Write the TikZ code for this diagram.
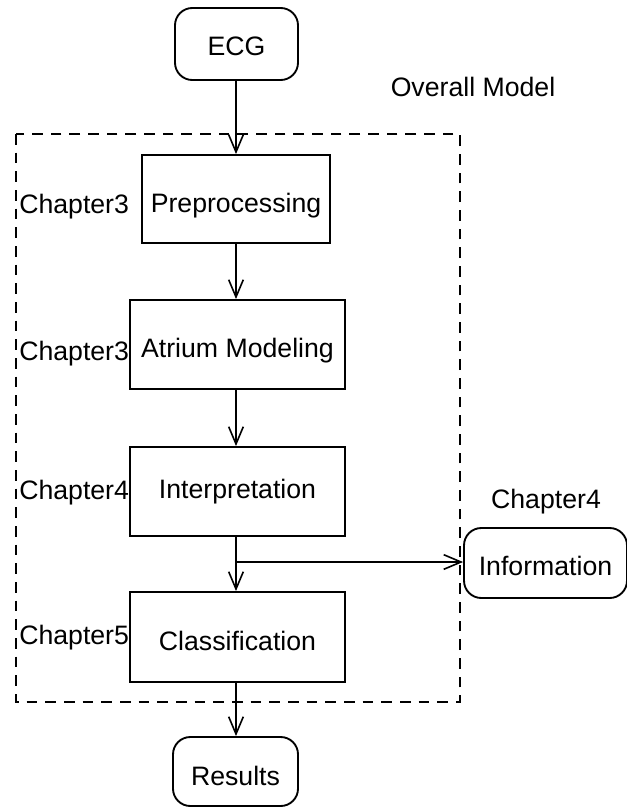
\documentclass[tikz,border=0pt]{standalone}
\usepackage{fontspec}
\setmainfont{Liberation Sans}
\usetikzlibrary{arrows.meta}
\begin{document}
\begin{tikzpicture}[x=0.75pt,y=-0.75pt,
  every node/.style={font=\fontsize{20}{24}\selectfont, inner sep=0pt, text height=14.3pt, text depth=0pt},
  rbox/.style={draw, line width=1.4pt, rounded corners=13pt},
  sbox/.style={draw, line width=1.4pt},
  conn/.style={line width=1.4pt, -{Straight Barb[length=13pt,width=11pt,line width=1.2pt]}},
  lbl/.style={}]
\useasboundingbox (0,0) rectangle (627,810);
\draw[line width=1.4pt, dash pattern=on 8pt off 6pt] (16,134) rectangle (460,702);
\node[lbl] (ov) at (473,87) {Overall Model};

\node[rbox, minimum width=92.25pt, minimum height=54pt] (ecg) at (236.5,44) {\raisebox{-1.5pt}{ECG}};
\node[sbox, minimum width=141pt, minimum height=66pt] (pre) at (236,199) {\raisebox{-3pt}{Preprocessing}};
\node[sbox, minimum width=161.25pt, minimum height=66.75pt] (atr) at (237.5,344.5) {\raisebox{-2.25pt}{Atrium Modeling}};
\node[sbox, minimum width=161.25pt, minimum height=66.75pt] (int) at (237.5,491.5) {\raisebox{1.9pt}{Interpretation}};
\node[sbox, minimum width=161.25pt, minimum height=67.5pt] (cls) at (237.5,637) {\raisebox{-3pt}{Classification}};
\node[rbox, minimum width=93.75pt, minimum height=51.75pt] (res) at (235.5,771.5) {\raisebox{-3.4pt}{Results}};
\node[rbox, minimum width=122.25pt, minimum height=52.5pt] (inf) at (545.5,563) {\raisebox{-2.25pt}{Information}};

\node[lbl, anchor=west] (c1) at (19,203.5) {Chapter3};
\node[lbl, anchor=west] (c2) at (19,351) {Chapter3};
\node[lbl, anchor=west] (c3) at (19,490) {Chapter4};
\node[lbl, anchor=west] (c4) at (19,635) {Chapter5};
\node[lbl] (c5) at (546,499) {Chapter4};

\coordinate (j) at (236,562);
\draw[conn] (ecg.south -| j) -- (pre.north -| j);
\draw[conn] (pre.south -| j) -- (atr.north -| j);
\draw[conn] (atr.south -| j) -- (int.north -| j);
\draw[conn] (int.south -| j) -- (cls.north -| j);
\draw[conn] (j) -- (inf.west |- j);
\draw[conn] (cls.south -| j) -- (res.north -| j);
\end{tikzpicture}
\end{document}
